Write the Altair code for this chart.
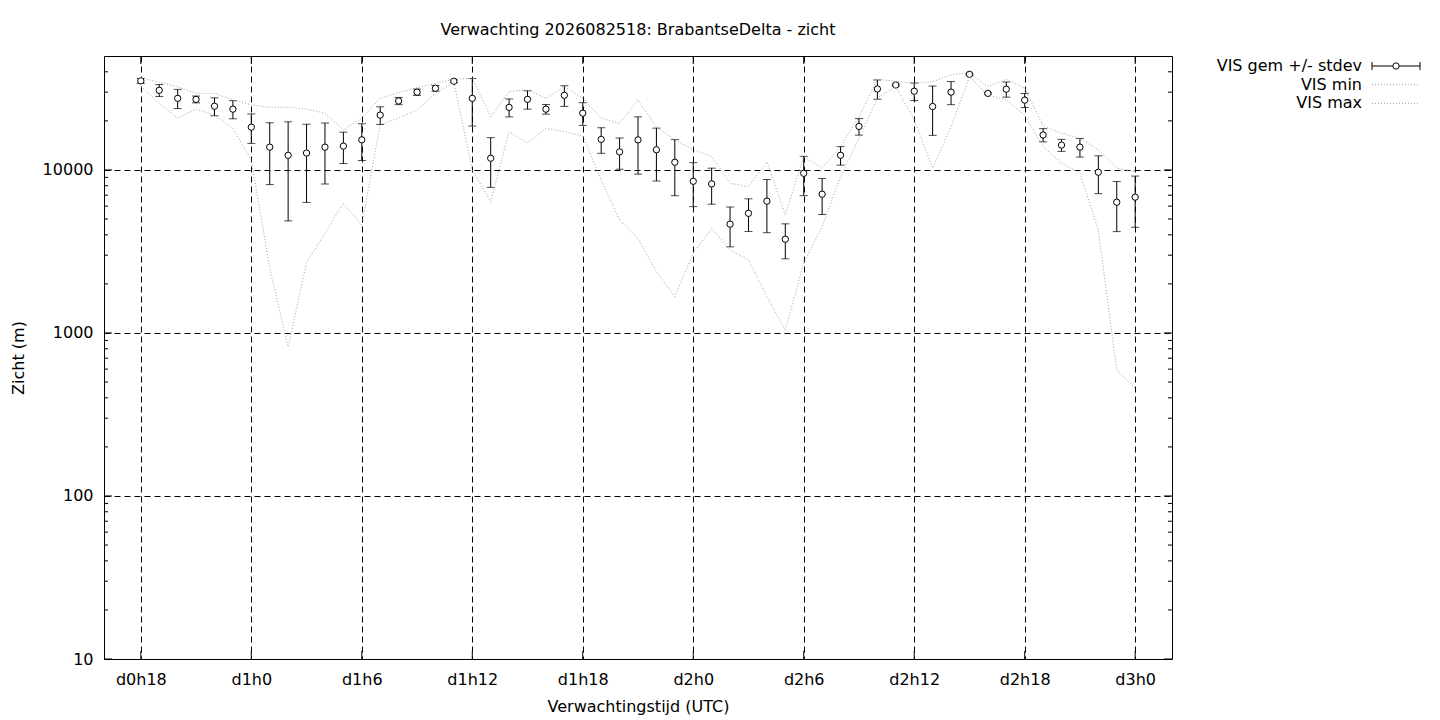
import altair as alt
import pandas as pd

# ---------------- data ----------------
hours = list(range(18, 73))
vis_mean = [35200, 30800, 27500, 27100, 24600, 23600, 18300, 13800, 12300, 12700,
            13800, 14000, 15300, 21700, 26500, 30000, 31700, 35000, 27500, 11800,
            24200, 27100, 23600, 28700, 22300, 15400, 12900, 15300, 13300, 11150,
            8520, 8210, 4650, 5420, 6430, 3760, 9540, 7100, 12300, 18500,
            31400, 33200, 30400, 24500, 30000, 38600, 29500, 31300, 26800, 16400,
            14200, 13800, 9680, 6340, 6810]
vis_sd = [1200, 2600, 3700, 1300, 3100, 3000, 3750, 5670, 7430, 6380,
          5600, 3050, 3875, 2700, 1350, 1350, 1300, 700, 8900, 3985,
          3050, 3500, 1600, 4150, 3550, 2750, 2800, 5875, 4750, 4200,
          2565, 2045, 1275, 1230, 2310, 910, 2585, 1770, 1600, 2150,
          4250, 500, 3750, 8200, 4850, 500, 400, 3350, 2650, 1525,
          1200, 1800, 2525, 2155, 2360]
vis_min = [32500, 25600, 20800, 23600, 21700, 18000, 11500, 2500, 820, 2700,
           4090, 6250, 4600, 19000, 20800, 23300, 29500, 34500, 10000, 6400,
           17200, 14600, 18000, 17200, 16100, 8680, 4930, 3800, 2380, 1670,
           3080, 4380, 3230, 2800, 1670, 1040, 2680, 4490, 9100, 15600,
           27500, 32500, 20300, 10250, 18400, 37300, 28800, 26900, 21700, 13900,
           11000, 9540, 4280, 590, 460]
vis_max = [36800, 34500, 32400, 29500, 29500, 26900, 25100, 24200, 24200, 23600,
           22300, 17600, 20800, 27500, 29800, 32000, 34000, 36000, 36500, 21200,
           30300, 31000, 27500, 32400, 27500, 20800, 19300, 26900, 18400, 15300,
           13300, 12100, 8280, 7900, 11200, 5300, 12100, 10250, 13900, 21200,
           36000, 35000, 34000, 34800, 38300, 39500, 32400, 36000, 31700, 18600,
           16800, 15600, 13300, 10250, 9760]

xtick_values = [18, 24, 30, 36, 42, 48, 54, 60, 66, 72]
xtick_labels = ["d0h18", "d1h0", "d1h6", "d1h12", "d1h18", "d2h0", "d2h6",
                "d2h12", "d2h18", "d3h0"]
ytick_values = [10, 100, 1000, 10000]
ytick_minor = [m * 10 ** k for k in range(1, 5) for m in range(2, 10) if m * 10 ** k < 50000]
x_domain = [16, 74]
y_domain = [10, 50000]

title_text = "Verwachting 2026082518: BrabantseDelta - zicht"
x_title = "Verwachtingstijd (UTC)"
y_title = "Zicht (m)"
legend_labels = ["VIS gem +/- stdev", "VIS min", "VIS max"]

# ---------------- frames ----------------
df = pd.DataFrame({"uur": hours, "gem": vis_mean, "sd": vis_sd,
                   "vmin": vis_min, "vmax": vis_max})
df["lo"] = df["gem"] - df["sd"]
df["hi"] = df["gem"] + df["sd"]

W, H = 1068, 603
FONT = "DejaVu Sans"
FS = 16
GRAY = "#a0a0a0"
DOT = [1, 2]

xs = alt.Scale(domain=x_domain, nice=False, zero=False)
ys = alt.Scale(type="log", domain=y_domain, nice=False)

label_expr = "[" + ",".join("'%s'" % s for s in xtick_labels) + "][indexof([" + \
    ",".join(str(v) for v in xtick_values) + "], datum.value)]"

x_axis = alt.Axis(values=xtick_values, labelExpr=label_expr, grid=True,
                  gridColor="black", gridDash=[6, 4], gridWidth=1, gridOpacity=1,
                  ticks=False, tickSize=0, domain=False, labelPadding=12,
                  labelFont=FONT, labelFontSize=FS, labelColor="black",
                  title=x_title, titleFont=FONT, titleFontSize=FS,
                  titleFontWeight="normal", titleColor="black",
                  titleBaseline="alphabetic", titleY=52)
y_axis = alt.Axis(values=ytick_values, format="d", grid=True,
                  gridColor="black", gridDash=[6, 4], gridWidth=1, gridOpacity=1,
                  ticks=False, tickSize=0, domain=False, labelPadding=11,
                  labelFont=FONT, labelFontSize=FS, labelColor="black",
                  title=y_title, titleFont=FONT, titleFontSize=FS,
                  titleFontWeight="normal", titleColor="black",
                  titleBaseline="alphabetic", titleX=-81, titleAngle=-90)


def X(field):
    return alt.X(field, scale=xs, axis=x_axis)


def Y(field):
    return alt.Y(field, scale=ys, axis=y_axis)


base = alt.Chart(df)

bars = base.mark_rule(color="black", strokeWidth=1).encode(
    x=X("uur:Q"), y=Y("lo:Q"), y2="hi:Q")
cap_lo = base.mark_tick(orient="horizontal", color="black", size=8, thickness=1).encode(
    x=X("uur:Q"), y=Y("lo:Q"))
cap_hi = base.mark_tick(orient="horizontal", color="black", size=8, thickness=1).encode(
    x=X("uur:Q"), y=Y("hi:Q"))
pts = base.mark_point(shape="circle", size=40, fill="white", fillOpacity=1,
                      stroke="black", strokeWidth=1, opacity=1).encode(
    x=X("uur:Q"), y=Y("gem:Q"))
line_min = base.mark_line(color=GRAY, strokeDash=DOT, strokeWidth=1).encode(
    x=X("uur:Q"), y=Y("vmin:Q"))
line_max = base.mark_line(color=GRAY, strokeDash=DOT, strokeWidth=1).encode(
    x=X("uur:Q"), y=Y("vmax:Q"))

# inward gnuplot-style ticks
dminor = pd.DataFrame({"v": ytick_minor})
dmajor = pd.DataFrame({"v": ytick_values})
dxt = pd.DataFrame({"h": xtick_values})
tick_layers = []
for d, ln in ((dminor, 4), (dmajor, 8)):
    tick_layers.append(alt.Chart(d).mark_rule(color="black", strokeWidth=1).encode(
        y=Y("v:Q"), x=alt.value(0), x2=alt.value(ln)))
    tick_layers.append(alt.Chart(d).mark_rule(color="black", strokeWidth=1).encode(
        y=Y("v:Q"), x=alt.value(W - ln), x2=alt.value(W)))
tick_layers.append(alt.Chart(dxt).mark_rule(color="black", strokeWidth=1).encode(
    x=X("h:Q"), y=alt.value(H - 8), y2=alt.value(H)))
tick_layers.append(alt.Chart(dxt).mark_rule(color="black", strokeWidth=1).encode(
    x=X("h:Q"), y=alt.value(0), y2=alt.value(8)))

# title as text
title_mark = alt.Chart(pd.DataFrame({"t": [title_text]})).mark_text(
    font=FONT, fontSize=FS, color="black", align="center", baseline="alphabetic"
).encode(x=alt.value(W / 2), y=alt.value(-21.5), text="t:N")

# manual gnuplot-style legend
LX = 1258
SX0, SX1 = 1268, 1316
leg = []
for i, lab in enumerate(legend_labels):
    yy = 10 + i * 18.7
    leg.append(alt.Chart(pd.DataFrame({"t": [lab]})).mark_text(
        font=FONT, fontSize=FS, color="black", align="right", baseline="middle"
    ).encode(x=alt.value(LX), y=alt.value(yy), text="t:N"))
one = pd.DataFrame({"k": [0]})
leg.append(alt.Chart(one).mark_rule(color="black", strokeWidth=1).encode(
    x=alt.value(SX0), x2=alt.value(SX1), y=alt.value(10)))
leg.append(alt.Chart(one).mark_rule(color="black", strokeWidth=1).encode(
    x=alt.value(SX0), y=alt.value(6), y2=alt.value(14)))
leg.append(alt.Chart(one).mark_rule(color="black", strokeWidth=1).encode(
    x=alt.value(SX1), y=alt.value(6), y2=alt.value(14)))
leg.append(alt.Chart(one).mark_point(shape="circle", size=40, fill="white", fillOpacity=1,
                                     stroke="black", strokeWidth=1, opacity=1).encode(
    x=alt.value((SX0 + SX1) / 2), y=alt.value(10)))
for i in (1, 2):
    leg.append(alt.Chart(one).mark_rule(color=GRAY, strokeDash=DOT, strokeWidth=1).encode(
        x=alt.value(SX0), x2=alt.value(SX1), y=alt.value(10 + i * 18.7)))

chart = alt.layer(
    bars, cap_lo, cap_hi, pts, line_min, line_max, *tick_layers, title_mark, *leg
).properties(
    width=W, height=H,
    autosize=alt.AutoSizeParams(type="none"),
    padding={"left": 96, "top": 48, "right": 260, "bottom": 57},
    background="white",
).configure_view(
    stroke="black", strokeWidth=1
)

chart.save("out.html", embed_options={"renderer": "svg", "actions": False})
